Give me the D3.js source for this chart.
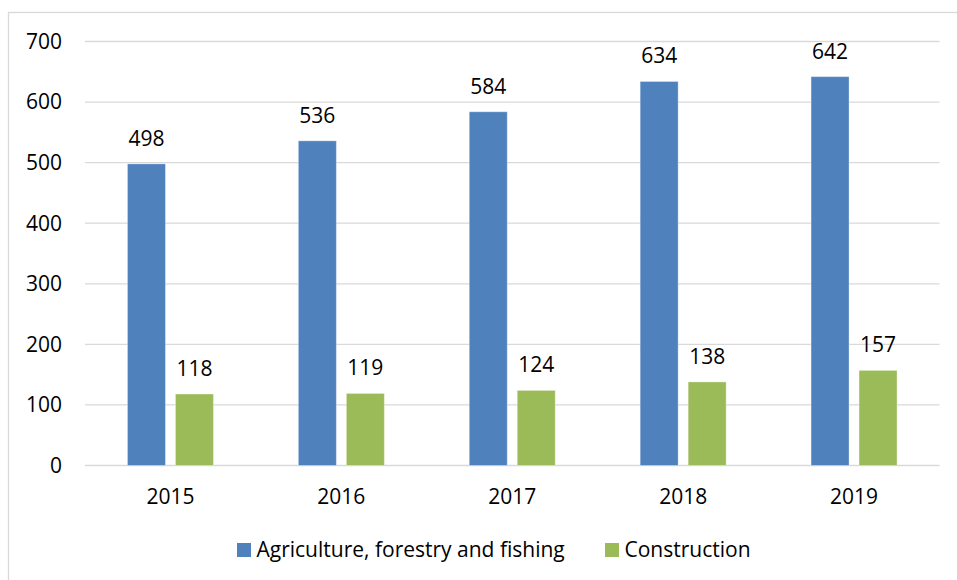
<!DOCTYPE html>
<html><head><meta charset="utf-8">
<script src="https://cdn.jsdelivr.net/npm/d3@7"></script>
<style>body{margin:0;background:#fff;} svg{display:block;font-family:"Open Sans",sans-serif;}</style>
</head><body><svg id="c" width="957" height="580"></svg>
<script>
const categories = ["2015","2016","2017","2018","2019"];
const seriesNames = ["Agriculture, forestry and fishing","Construction"];
const agriculture = [498,536,584,634,642];
const construction = [118,119,124,138,157];
const yTicks = [0,100,200,300,400,500,600,700];
const colors = ["#4F81BD","#9BBB59"];
const FS = 21;

const svg = d3.select("#c");
svg.append("rect").attr("x",8.5).attr("y",12.5).attr("width",1000).attr("height",700)
  .attr("fill","#fff").attr("stroke","#d9d9d9").attr("stroke-width",1.3);

const x = d3.scaleBand().domain(categories).range([85,939.5]);
const y = d3.scaleLinear().domain([0,700]).range([465.5,41.5]);

svg.append("g").selectAll("line").data(yTicks).join("line")
  .attr("x1",85).attr("x2",939.5).attr("y1",d=>y(d)).attr("y2",d=>y(d))
  .attr("stroke","#d9d9d9").attr("stroke-width",d=>d===0?1.5:1.3);

svg.append("g").selectAll("text").data(yTicks).join("text")
  .attr("x",62).attr("y",d=>y(d)).attr("dy","0.35em").attr("text-anchor","end")
  .attr("font-size",FS).attr("fill","#000").text(d=>d);

svg.append("g").selectAll("text").data(categories).join("text")
  .attr("x",d=>x(d)+x.bandwidth()/2).attr("y",504).attr("text-anchor","middle")
  .attr("font-size",FS).attr("fill","#000").text(d=>d);

const barW = 38, gap = 10;
const series = [agriculture, construction];
series.forEach((vals,si)=>{
  const off = si===0 ? -gap/2-barW : gap/2;
  const g = svg.append("g");
  g.selectAll("rect").data(vals).join("rect")
    .attr("x",(d,i)=>x(categories[i])+x.bandwidth()/2+off)
    .attr("y",d=>y(d)).attr("width",barW).attr("height",d=>y(0)-y(d))
    .attr("fill",colors[si]).attr("stroke","#fff").attr("stroke-opacity",0.35).attr("stroke-width",1);
  g.selectAll("text").data(vals).join("text")
    .attr("x",(d,i)=>x(categories[i])+x.bandwidth()/2+off+barW/2)
    .attr("y",d=>y(d)-18).attr("text-anchor","middle")
    .attr("font-size",FS).attr("fill","#000").text(d=>d);
});

const legendX = [237,605];
seriesNames.forEach((n,i)=>{
  svg.append("rect").attr("x",legendX[i]).attr("y",543).attr("width",14).attr("height",14).attr("fill",colors[i]);
  svg.append("text").attr("x",legendX[i]+19.5).attr("y",556.5).attr("font-size",FS).attr("fill","#000").text(n);
});
</script></body></html>
